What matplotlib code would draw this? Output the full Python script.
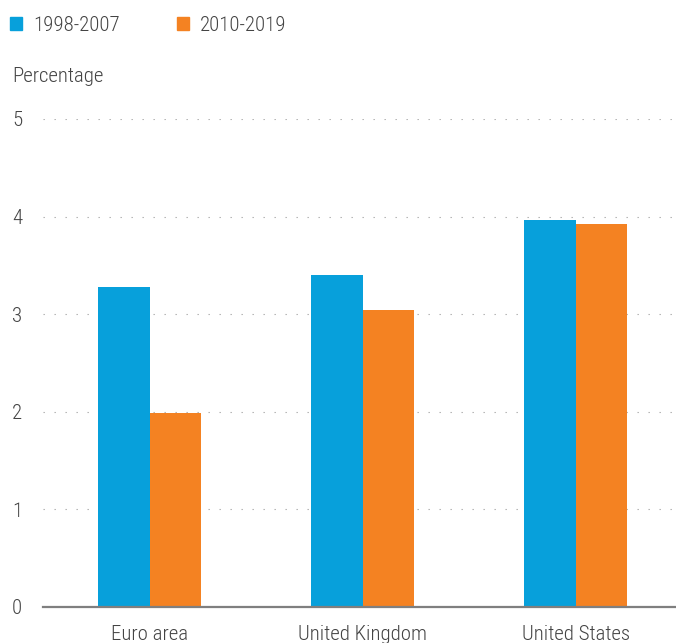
import matplotlib
matplotlib.use('Agg')
import matplotlib.pyplot as plt
from matplotlib.patches import Patch
from matplotlib import font_manager
import numpy as np

# Data
regions = ['Euro area', 'United Kingdom', 'United States']
series_names = ['1998-2007', '2010-2019']
growth_1998_2007 = [3.28, 3.40, 3.97]
growth_2010_2019 = [1.99, 3.04, 3.92]
y_ticks = [0, 1, 2, 3, 4, 5]

blue = '#07A0DB'
orange = '#F48222'
text_col = '#444444'

# pick a narrow face if one is around
names = {f.name for f in font_manager.fontManager.ttflist}
font = 'Roboto'
for cand in ['Roboto Condensed', 'Liberation Sans Narrow']:
    if cand in names:
        font = cand
        break
plt.rcParams['font.family'] = [font, 'DejaVu Sans']
plt.rcParams['font.weight'] = 'light'
fs = 15

fig = plt.figure(figsize=(6.76, 6.43), dpi=100)
W, H = 676, 643
ax = fig.add_axes([43 / W, 36 / H, (676 - 43) / W, (607 - 119) / H])

x = np.arange(len(regions))
bw = 0.242
ax.bar(x - bw / 2, growth_1998_2007, width=bw, color=blue, zorder=3)
ax.bar(x + bw / 2, growth_2010_2019, width=bw, color=orange, zorder=3)

ax.set_xlim(-0.5, 2.47)
ax.set_ylim(0, 5)
ax.set_yticks(y_ticks)
ax.set_xticks(x)
ax.set_xticklabels(regions)

ax.yaxis.grid(True, color='#AAAAAA', linewidth=0.8, dashes=(1.2, 8.7), zorder=0)
ax.set_axisbelow(True)

for s in ['top', 'right', 'left']:
    ax.spines[s].set_visible(False)
ax.spines['bottom'].set_color('#7F7F7F')
ax.spines['bottom'].set_linewidth(1.6)
ax.spines['bottom'].set_zorder(4)

ax.tick_params(axis='both', length=0, labelsize=fs, colors=text_col)
ax.tick_params(axis='y', pad=15)
ax.tick_params(axis='x', pad=13)

fig.text(12 / W, 1 - 76 / H, 'Percentage', fontsize=fs, color=text_col,
         ha='left', va='center')

handles = [Patch(color=blue), Patch(color=orange)]
fig.legend(handles, series_names, loc='upper left',
           bbox_to_anchor=(10 / W, 1 - 16 / H), ncol=2, frameon=False,
           fontsize=fs, handlelength=0.58, handleheight=0.58,
           handletextpad=0.53, columnspacing=2.75, borderaxespad=0,
           borderpad=0, labelcolor=text_col)

fig.savefig('out.png', dpi=100)
